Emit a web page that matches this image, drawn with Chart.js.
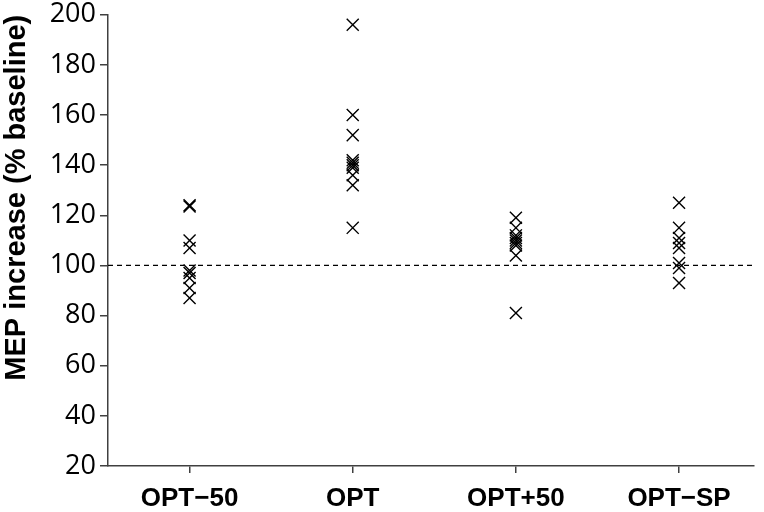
<!DOCTYPE html>
<html>
<head>
<meta charset="utf-8">
<script src="https://cdn.jsdelivr.net/npm/chart.js@4/dist/chart.umd.min.js"></script>
<style>
html,body{margin:0;padding:0;background:#fff;}
#wrap{width:764px;height:512px;position:relative;}
</style>
</head>
<body>
<div id="wrap"><canvas id="c" width="764" height="512"></canvas></div>
<script>
const categories = ["OPT\u221250", "OPT", "OPT+50", "OPT\u2212SP"];
const optMinus50 = [124, 123.5, 110, 107, 98, 97, 95, 91, 87];
const opt = [196, 160, 152, 142, 141, 140, 139, 136, 132, 115];
const optPlus50 = [119, 115, 112, 111, 110, 109, 108, 104, 81];
const optSP = [125, 115, 111, 109, 107, 101, 99, 93];
const baselineValue = 100;
const yTicks = [20, 40, 60, 80, 100, 120, 140, 160, 180, 200];

const groups = [optMinus50, opt, optPlus50, optSP];
const points = [];
groups.forEach((g, i) => g.forEach(v => points.push({x: i + 1, y: v})));

const axisColor = '#404040';
new Chart(document.getElementById('c'), {
  type: 'scatter',
  data: {
    datasets: [
      {
        type: 'line',
        data: [{x: 0.5, y: baselineValue}, {x: 4.46, y: baselineValue}],
        borderColor: '#000',
        borderWidth: 1.2,
        borderDash: [5, 4],
        pointRadius: 0,
        fill: false
      },
      {
        data: points,
        pointStyle: 'crossRot',
        pointRadius: 8.5,
        pointBorderWidth: 1.4,
        borderColor: '#000',
        backgroundColor: '#000'
      }
    ]
  },
  options: {
    responsive: false,
    animation: false,
    events: [],
    layout: {padding: {top: 13, right: 0, left: 0, bottom: 0}},
    plugins: {legend: {display: false}, tooltip: {enabled: false}},
    scales: {
      x: {
        type: 'linear',
        min: 0.5,
        max: 4.46,
        afterBuildTicks: s => { s.ticks = [1, 2, 3, 4].map(v => ({value: v})); },
        afterFit: s => { s.height = 46; },
        border: {display: true, color: axisColor, width: 1.5},
        grid: {display: true, drawOnChartArea: false, drawTicks: true, tickLength: 7, color: axisColor, lineWidth: 1.5},
        ticks: {
          autoSkip: false,
          maxRotation: 0,
          padding: 10,
          color: '#000',
          font: {family: 'Liberation Sans', weight: 'bold', size: 26},
          callback: v => categories[v - 1]
        }
      },
      y: {
        min: 20,
        max: 200,
        afterBuildTicks: s => { s.ticks = yTicks.map(v => ({value: v})); },
        afterFit: s => { s.width = 108; },
        border: {display: true, color: axisColor, width: 1.5},
        grid: {display: true, drawOnChartArea: false, drawTicks: true, tickLength: 8, color: axisColor, lineWidth: 1.5},
        ticks: {
          padding: 4,
          color: '#000',
          font: {family: 'Open Sans', size: 27, lineHeight: 0.8}
        },
        title: {
          display: true,
          text: 'MEP increase (% baseline)',
          align: 'end',
          color: '#000',
          padding: {top: 0, bottom: 2},
          font: {family: 'Liberation Sans', weight: 'bold', size: 29}
        }
      }
    }
  }
});
</script>
</body>
</html>
